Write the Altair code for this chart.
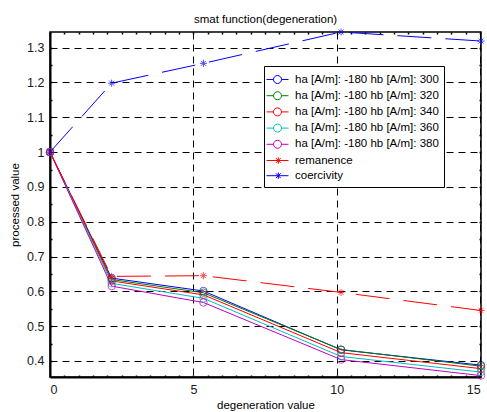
import altair as alt
import pandas as pd

x_vals = [0, 2.15, 5.35, 10.15, 15.03]
s300 = [1.0, 0.638, 0.601, 0.432, 0.388]
s320 = [1.0, 0.634, 0.596, 0.433, 0.385]
s340 = [1.0, 0.630, 0.590, 0.424, 0.378]
s360 = [1.0, 0.623, 0.580, 0.413, 0.368]
s380 = [1.0, 0.615, 0.568, 0.404, 0.358]
remanence = [1.0, 0.643, 0.645, 0.597, 0.545]
coercivity = [1.0, 1.198, 1.255, 1.345, 1.319]

circ_names = ["ha [A/m]: -180 hb [A/m]: 300", "ha [A/m]: -180 hb [A/m]: 320",
              "ha [A/m]: -180 hb [A/m]: 340", "ha [A/m]: -180 hb [A/m]: 360",
              "ha [A/m]: -180 hb [A/m]: 380"]
star_names = ["remanence", "coercivity"]
names = circ_names + star_names
colors = ["#0000ff", "#008000", "#ff0000", "#00bfbf", "#bf00bf", "#ff0000", "#0000ff"]

x_major = [0, 5, 10, 15]
y_major = [0.4, 0.5, 0.6, 0.7, 0.8, 0.9, 1.0, 1.1, 1.2, 1.3]
x_minor = [i * 0.5 for i in range(31)]
y_minor = [round(0.35 + i * 0.05, 2) for i in range(20)]

rows = []
for name, vals in zip(circ_names, [s300, s320, s340, s360, s380]):
    for i, (xv, yv) in enumerate(zip(x_vals, vals)):
        rows.append({"series": name, "x": xv, "y": yv, "kind": "circ", "order": i})
for name, vals in zip(star_names, [remanence, coercivity]):
    for i, (xv, yv) in enumerate(zip(x_vals, vals)):
        rows.append({"series": name, "x": xv, "y": yv, "kind": "star", "order": i})
df = pd.DataFrame(rows)

circ_leg = "M-1.375,0L-0.5,0M0.5,0L1.375,0M0.5,0A0.5,0.5,0,1,1,-0.5,0A0.5,0.5,0,1,1,0.5,0"
star_leg = "M-1.375,0L1.375,0M0.1,-0.4L0.1,0.4M-0.2,-0.3L0.4,0.3M-0.2,0.3L0.4,-0.3"
star_pt = "M-1,0L1,0M0,-1L0,1M-0.7,-0.7L0.7,0.7M-0.7,0.7L0.7,-0.7"

xs = alt.Scale(domain=[0, 15.03], nice=False, zero=False)
ys = alt.Scale(domain=[0.354, 1.345], nice=False, zero=False)
legend = alt.Legend(title=None, orient="none", legendX=214, legendY=34,
                    fillColor="white", strokeColor="black", padding=5,
                    labelFontSize=11.5, labelFont="Liberation Sans", labelColor="black",
                    symbolSize=256, symbolStrokeWidth=1, symbolOpacity=1,
                    symbolFillColor="transparent", rowPadding=1.2, labelOffset=9,
                    labelLimit=300)
col = alt.Color("series:N", scale=alt.Scale(domain=names, range=colors), legend=legend,
                sort=names)

X_main = alt.X("x:Q", scale=xs,
               axis=alt.Axis(title="degeneration value", values=x_major, format="d",
                             grid=True, ticks=False))
Y_main = alt.Y("y:Q", scale=ys,
               axis=alt.Axis(title="processed value", values=y_major, grid=True, ticks=False,
                             labelExpr="datum.value == 1 ? '1' : format(datum.value, '.1f')"))
X_none = alt.X("x:Q", scale=xs, axis=None)
Y_none = alt.Y("y:Q", scale=ys, axis=None)


def minor_axis(orient, values):
    return alt.Axis(orient=orient, values=values, title=None, labels=False, domain=False,
                    grid=False, ticks=True, tickSize=2, offset=-2, tickColor="black",
                    tickWidth=1.5)


base = alt.Chart(df)
circ = base.transform_filter("datum.kind == 'circ'")
star = base.transform_filter("datum.kind == 'star'")

dummy = base.mark_point(filled=False, opacity=0).encode(
    x=X_main, y=Y_main, color=col,
    shape=alt.Shape("series:N", scale=alt.Scale(domain=names,
                    range=[circ_leg] * 5 + [star_leg] * 2), legend=legend, sort=names))
circ_lines = circ.mark_line(strokeWidth=1).encode(x=X_none, y=Y_none, color=col,
                                                  order="order:Q")
circ_pts = circ.mark_point(shape="circle", size=55, filled=False, strokeWidth=1).encode(
    x=alt.X("x:Q", scale=xs, axis=minor_axis("bottom", x_minor)),
    y=alt.Y("y:Q", scale=ys, axis=minor_axis("left", y_minor)), color=col)
star_lines = star.mark_line(strokeWidth=1, strokeDash=[34, 14]).encode(
    x=X_none, y=Y_none, color=col, order="order:Q")
star_pts = star.mark_point(shape=star_pt, size=50, filled=False, strokeWidth=1).encode(
    x=alt.X("x:Q", scale=xs, axis=minor_axis("top", x_minor)),
    y=alt.Y("y:Q", scale=ys, axis=minor_axis("right", y_minor)), color=col)

chart = alt.layer(dummy, circ_lines, circ_pts, star_lines, star_pts).resolve_axis(
    x="independent", y="independent"
).properties(
    width=431, height=345,
    title=alt.TitleParams("smat function(degeneration)", fontSize=11.5,
                          font="Liberation Sans", fontWeight="normal", color="black",
                          offset=1),
    padding={"left": 50, "top": 32, "right": 6, "bottom": 35},
    autosize=alt.AutoSizeParams(type="none"),
).configure_view(stroke="black", strokeWidth=1.5).configure_axis(
    gridColor="black", gridDash=[7, 5], gridWidth=1, gridOpacity=1,
    domainColor="black", domainWidth=2, labelPadding=6,
    labelFont="Liberation Sans", labelFontSize=12.5, labelColor="#1a1a1a",
    titleFont="Liberation Sans", titleFontSize=11.5, titleFontWeight="normal",
    titleColor="black",
).configure_axisX(titlePadding=4).configure_axisY(titlePadding=6)

chart.save("out.html", embed_options={"renderer": "svg", "actions": False})
